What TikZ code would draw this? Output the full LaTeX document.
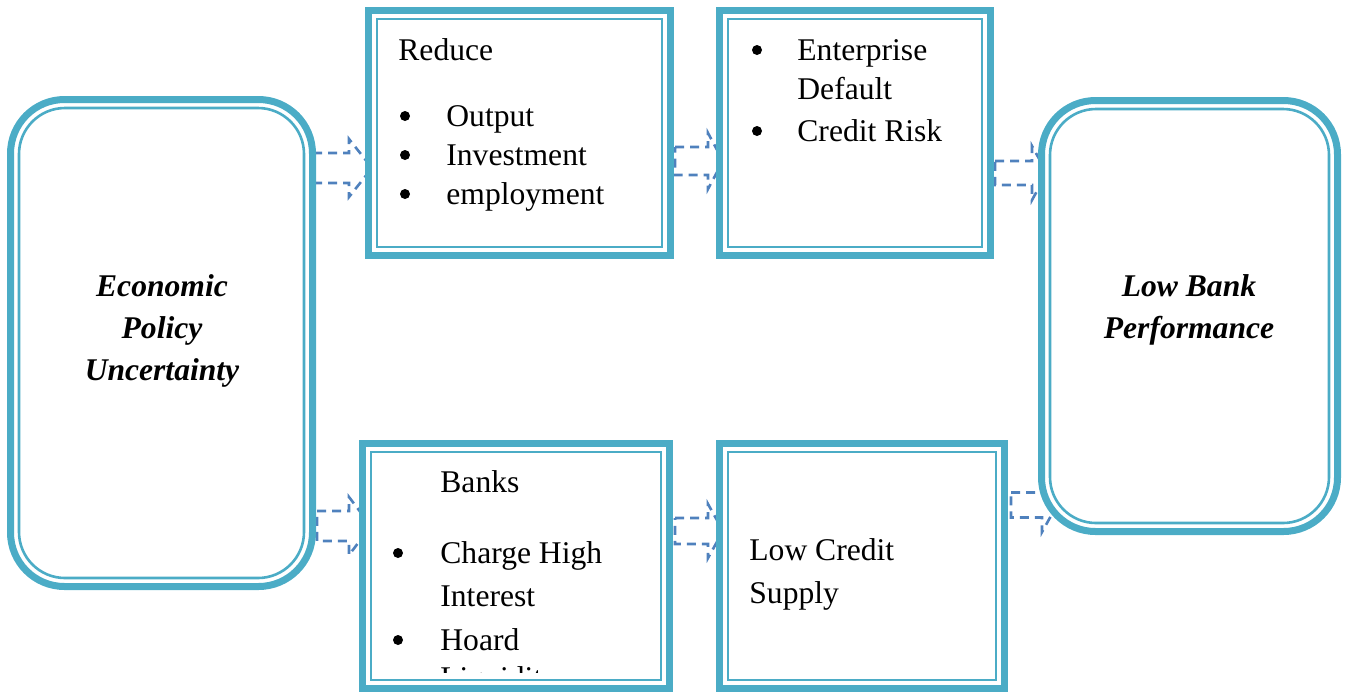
\documentclass[tikz,border=0pt]{standalone}
\usepackage{fontspec}
\setmainfont{Liberation Serif}
\usetikzlibrary{calc}

\definecolor{kastenblau}{HTML}{4BACC6}
\definecolor{pfeilblau}{HTML}{4F81BD}

\tikzset{
	kasten/.style={draw=kastenblau, line width=3.5pt, fill=white, inner sep=0pt},
	innen/.style={draw=kastenblau, line width=1.3pt},
	pfeil/.style={draw=pfeilblau, line width=1.3pt, dash pattern=on 4.5pt off 3pt},
	txt/.style={anchor=base west, inner sep=0pt, font=\fontsize{15.8}{19}\selectfont},
	fett/.style={align=center, inner sep=0pt, font=\fontsize{15.8}{21}\selectfont\bfseries\itshape},
	punkt/.style={circle, fill=black, inner sep=0pt, minimum size=5pt},
}

% innerer Rahmen: #1 Radius, #2 Knoten
\newcommand{\innenrahmen}[2][0pt]{%
	\draw[innen, rounded corners=#1] ([shift={(6pt,-6pt)}]#2.north west) rectangle ([shift={(-6pt,6pt)}]#2.south east);}

% Blockpfeil: #1 Ende, #2 Spitze, #3 halbe Schaftbreite, #4 halbe Kopfbreite, #5 Kopflaenge
\newcommand{\blockpfeil}[5]{%
	\draw[pfeil] ($(#1)+(0,-#3)$) -- ($(#2)+(-#5,-#3)$) -- ($(#2)+(-#5,-#4)$) -- (#2)
		-- ($(#2)+(-#5,#4)$) -- ($(#2)+(-#5,#3)$) -- ($(#1)+(0,#3)$) -- cycle;}

\begin{document}
\begin{tikzpicture}[x=0.5pt, y=-0.5pt]
	\useasboundingbox (0,0) rectangle (1350,693);

	% Kaesten (Positionen)
	\coordinate (epupos) at (161.5,343);
	\coordinate (bankpos) at (1189.5,316);
	\coordinate (reducepos) at (519.5,133);
	\coordinate (riskpos) at (855,133);
	\coordinate (bankspos) at (516,566);
	\coordinate (creditpos) at (862,566);

	% unsichtbare Hilfsknoten fuer die Pfeile
	\path (epupos) node[kasten, draw=none, fill=none, rounded corners=27pt, minimum width=151pt, minimum height=243.5pt] (epu) {};
	\path (bankpos) node[kasten, draw=none, fill=none, rounded corners=27pt, minimum width=148pt, minimum height=215.5pt] (bank) {};
	\path (reducepos) node[kasten, draw=none, fill=none, minimum width=151pt, minimum height=122.5pt] (reduce) {};
	\path (riskpos) node[kasten, draw=none, fill=none, minimum width=135.5pt, minimum height=122.5pt] (risk) {};
	\path (bankspos) node[kasten, draw=none, fill=none, minimum width=153.5pt, minimum height=122.5pt] (banks) {};
	\path (creditpos) node[kasten, draw=none, fill=none, minimum width=142.5pt, minimum height=122.5pt] (credit) {};

	% Pfeile
	\coordinate (a1) at ($(epu.east |- 0,168)+(-3,0)$);
	\coordinate (b1) at ($(reduce.west |- 0,168)+(7,0)$);
	\coordinate (a2) at ($(epu.east |- 0,526)+(1,0)$);
	\coordinate (b2) at ($(banks.west |- 0,526)+(12,0)$);
	\coordinate (a3) at ($(reduce.east |- 0,161)+(1,0)$);
	\coordinate (b3) at ($(risk.west |- 0,161)+(7,0)$);
	\coordinate (a4) at ($(banks.east |- 0,531)+(2,0)$);
	\coordinate (b4) at ($(credit.west |- 0,531)+(7,0)$);
	\coordinate (a5) at ($(risk.east |- 0,173)+(1,0)$);
	\coordinate (b5) at ($(bank.west |- 0,173)+(9,0)$);
	\coordinate (a6) at ($(credit.east |- 0,505)+(3,0)$);
	\coordinate (b6) at ($(bank.west |- 0,505)+(19,0)$);

	\blockpfeil{a1}{b1}{15}{29}{23}
	\blockpfeil{a2}{b2}{15}{29}{22}
	\blockpfeil{a3}{b3}{14}{28}{15}
	\blockpfeil{a4}{b4}{13}{27}{15}
	\blockpfeil{a5}{b5}{12}{27}{15}
	\blockpfeil{a6}{b6}{12.5}{27}{15}

	% Kaesten
	\node[kasten, rounded corners=27pt, minimum width=151pt, minimum height=243.5pt] (epubox) at (epupos) {};
	\node[kasten, rounded corners=27pt, minimum width=148pt, minimum height=215.5pt] (bankbox) at (bankpos) {};
	\node[kasten, minimum width=151pt, minimum height=122.5pt] (reducebox) at (reducepos) {};
	\node[kasten, minimum width=135.5pt, minimum height=122.5pt] (riskbox) at (riskpos) {};
	\node[kasten, minimum width=153.5pt, minimum height=122.5pt] (banksbox) at (bankspos) {};
	\node[kasten, minimum width=142.5pt, minimum height=122.5pt] (creditbox) at (creditpos) {};

	\innenrahmen[23pt]{epubox}
	\innenrahmen[23pt]{bankbox}
	\innenrahmen{reducebox}
	\innenrahmen{riskbox}
	\innenrahmen{banksbox}
	\innenrahmen{creditbox}

	% Texte
	\node[fett] (epulbl) at (162,331) {Economic\\Policy\\Uncertainty};
	\node[fett] (banklbl) at (1189,310) {Low Bank\\Performance};

	\node[txt] (reducelbl) at (398,60) {Reduce};
	\node[punkt] (rb1) at (405,116) {};
	\node[punkt] (rb2) at (405,155) {};
	\node[punkt] (rb3) at (405,194) {};
	\node[txt] (output) at (446,126) {Output};
	\node[txt] (invest) at (446,165) {Investment};
	\node[txt] (employ) at (446,204) {employment};

	\node[punkt] (kb1) at (757,50) {};
	\node[punkt] (kb2) at (757,131) {};
	\node[txt] (enterp) at (797,60) {Enterprise};
	\node[txt] (default) at (797,99) {Default};
	\node[txt] (crisk) at (797,141) {Credit Risk};

	\begin{scope}
		\clip (banksbox.north west) rectangle ($(banksbox.south east)+(0,-20)$);
		\node[txt] (bankslbl) at (440,492) {Banks};
		\node[punkt] (bb1) at (398,553) {};
		\node[punkt] (bb2) at (398,640) {};
		\node[txt] (charge) at (440,563) {Charge High};
		\node[txt] (interest) at (440,606) {Interest};
		\node[txt] (hoard) at (440,650) {Hoard};
		\node[txt] (liquid) at (440,688) {Liquidity};
	\end{scope}

	\node[txt] (lowcred) at (749,560) {Low Credit};
	\node[txt] (supply) at (749,603) {Supply};
\end{tikzpicture}
\end{document}
